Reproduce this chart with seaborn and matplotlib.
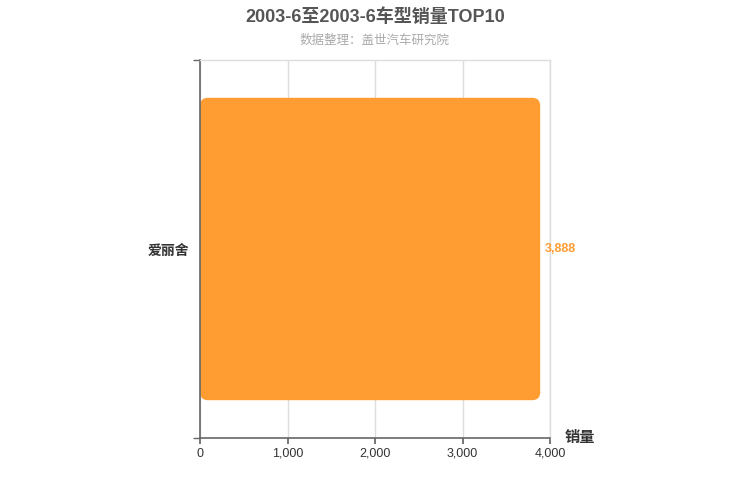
import matplotlib
matplotlib.use("Agg")
import matplotlib.pyplot as plt
from matplotlib.patches import FancyBboxPatch
import seaborn as sns
import pandas as pd

models = ["爱丽舍"]
sales = [3888]
xticks = [0, 1000, 2000, 3000, 4000]

sns.set_theme(style="white")
plt.rcParams['font.family'] = ['Liberation Sans', 'Noto Sans CJK SC', 'DejaVu Sans']

df = pd.DataFrame({"model": models, "sales": sales})
bar_color = "#FF9D33"

fig = plt.figure(figsize=(7.5, 5), dpi=100)
ax = fig.add_axes([200 / 750, 1 - 438 / 500, 350 / 750, 378 / 500])
sns.barplot(data=df, x="sales", y="model", orient="h", color=bar_color,
            width=0.8, ax=ax, saturation=1)
ax.set_xlim(0, 4000)
ax.set_ylim(0.5, -0.5)

# rounded bars
x_per_px = 4000 / 350
y_per_px = 1.0 / 378
for p in list(ax.patches):
    x0, y0, w, h = p.get_x(), p.get_y(), p.get_width(), p.get_height()
    p.remove()
    ax.add_patch(FancyBboxPatch((x0, y0), w, h,
                                boxstyle=f"round,pad=0,rounding_size={8 * x_per_px}",
                                mutation_aspect=y_per_px / x_per_px,
                                facecolor=bar_color, edgecolor="none", zorder=2))

for i, v in enumerate(sales):
    ax.text(v + 50, i, f"{v:,}", color=bar_color, fontsize=9, fontweight="bold",
            va="center", ha="left")

ax.set_xticks(xticks)
ax.set_xticklabels([f"{t:,}" for t in xticks], fontsize=9, color="#333333")
ax.xaxis.grid(True, color="#dddddd", linewidth=1)
ax.set_axisbelow(True)
ax.tick_params(axis="x", length=4, color="#666666", bottom=True, pad=3)
ax.set_yticks([0.5, -0.5], minor=True)
ax.tick_params(axis="y", which="minor", length=5, color="#666666", left=True)
ax.tick_params(axis="y", which="major", length=0, pad=8)
for lbl in ax.get_yticklabels():
    lbl.set_fontweight("bold")
    lbl.set_fontsize(10)
    lbl.set_color("#333333")

for s in ["top", "right"]:
    ax.spines[s].set_color("#dddddd")
    ax.spines[s].set_linewidth(1)
ax.spines["left"].set_color("#666666")
ax.spines["bottom"].set_color("#666666")
ax.spines["left"].set_linewidth(1.2)
ax.spines["bottom"].set_linewidth(1.2)

ax.set_xlabel("")
ax.set_ylabel("")
fig.text(565 / 750, 1 - 438 / 500, "销量", fontsize=11, fontweight="bold",
         color="#333333", ha="left", va="center")

fig.text(0.5, 1 - 17 / 500, "2003-6至2003-6车型销量TOP10", fontsize=13,
         fontweight="bold", color="#555555", ha="center", va="center")
fig.text(0.5, 1 - 41 / 500, "数据整理：盖世汽车研究院", fontsize=9,
         color="#aaaaaa", ha="center", va="center")

fig.savefig("out.png", dpi=100)
